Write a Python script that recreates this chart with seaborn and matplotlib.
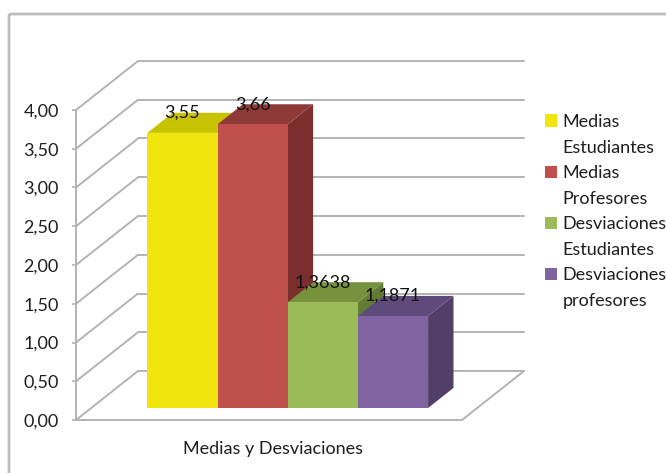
import matplotlib
matplotlib.use("Agg")
import matplotlib.pyplot as plt
import matplotlib.patches as mpatches
from matplotlib.transforms import Affine2D
import seaborn as sns
import pandas as pd

# ---- data ----
categories = ["Medias y Desviaciones"]
series_names = ["Medias Estudiantes", "Medias Profesores",
                "Desviaciones Estudiantes", "Desviaciones profesores"]
values = [3.55, 3.66, 1.3638, 1.1871]
value_labels = ["3,55", "3,66", "1,3638", "1,1871"]
y_ticks = [0.0, 0.5, 1.0, 1.5, 2.0, 2.5, 3.0, 3.5, 4.0]
y_tick_labels = ["0,00", "0,50", "1,00", "1,50", "2,00", "2,50", "3,00", "3,50", "4,00"]

# ---- styles ----
front_colors = ["#f0e60e", "#c0504d", "#9bbb59", "#8064a2"]
top_colors = ["#c8c300", "#8e3a38", "#76923c", "#5f4b7b"]
side_colors = ["#a9a300", "#7a2e2d", "#637c33", "#523f69"]
grid_color = "#b3b3b3"
text_color = "#1e1e1e"
FS = 13

sns.set_style("white")
plt.rcParams["font.family"] = ["Lato", "DejaVu Sans"]

W, H = 666, 473
fig = plt.figure(figsize=(W / 100, H / 100), dpi=100)
fig.patch.set_facecolor("white")

# outer chart border
fig.patches.append(mpatches.FancyBboxPatch(
    (9 / W, -0.05), 1.1, (H - 14) / H + 0.05,
    boxstyle="round,pad=0,rounding_size=0.004",
    transform=fig.transFigure, fill=False, edgecolor="#bdbdbd", linewidth=2))

ax_left, ax_right, ax_bottom, ax_top = 76, 462, 420, 110
ax = fig.add_axes([ax_left / W, (H - ax_bottom) / H,
                   (ax_right - ax_left) / W, (ax_bottom - ax_top) / H])

df = pd.DataFrame({"grupo": categories * len(series_names),
                   "serie": series_names, "valor": values})
sns.barplot(data=df, x="grupo", y="valor", hue="serie", hue_order=series_names,
            palette=front_colors, saturation=1, width=0.8, ax=ax,
            legend=False, linewidth=0)

xlim = (-0.56, 0.54)
ax.set_xlim(*xlim)
ax.set_ylim(0, 4)

px_x = (ax_right - ax_left) / (xlim[1] - xlim[0])
px_y = (ax_bottom - ax_top) / 4.0
DX = 62 / px_x     # full depth, data units
DY = 49 / px_y
d0, d1 = 0.245, 0.655   # bar depth range (fraction of floor depth)

# back wall / side gridlines
for v in y_ticks:
    ax.plot([xlim[0], xlim[0] + DX], [v, v + DY], color=grid_color, lw=1.4,
            zorder=1, clip_on=False, solid_capstyle="butt")
    ax.plot([xlim[0] + DX, xlim[1] + DX], [v + DY, v + DY], color=grid_color,
            lw=1.4, zorder=1, clip_on=False)
# floor right edge
ax.plot([xlim[1], xlim[1] + DX], [0, DY], color=grid_color, lw=1.4,
        zorder=1, clip_on=False)

# 3D bars
for i, p in enumerate(ax.patches):
    x0 = p.get_x()
    w = p.get_width()
    h = p.get_height()
    x1 = x0 + w
    p.set_transform(Affine2D().translate(d0 * DX, d0 * DY) + ax.transData)
    p.set_zorder(3 + 3 * i + 2)
    p.set_clip_on(False)
    side = mpatches.Polygon([(x1 + d0 * DX, d0 * DY), (x1 + d0 * DX, h + d0 * DY),
                             (x1 + d1 * DX, h + d1 * DY), (x1 + d1 * DX, d1 * DY)],
                            closed=True, facecolor=side_colors[i], edgecolor="none",
                            zorder=3 + 3 * i, clip_on=False)
    top = mpatches.Polygon([(x0 + d0 * DX, h + d0 * DY), (x1 + d0 * DX, h + d0 * DY),
                            (x1 + d1 * DX, h + d1 * DY), (x0 + d1 * DX, h + d1 * DY)],
                           closed=True, facecolor=top_colors[i], edgecolor="none",
                           zorder=3 + 3 * i + 1, clip_on=False)
    ax.add_patch(side)
    ax.add_patch(top)
    ax.text(x0 + w / 2 + d0 * DX, h + d1 * DY, value_labels[i],
            ha="center", va="center", fontsize=FS, color="#111111",
            zorder=40, clip_on=False)

# axes styling
for s in ["top", "right"]:
    ax.spines[s].set_visible(False)
for s in ["left", "bottom"]:
    ax.spines[s].set_color(grid_color)
    ax.spines[s].set_linewidth(1.4)
    ax.spines[s].set_zorder(2)
ax.set_yticks(y_ticks)
ax.set_yticklabels(y_tick_labels)
ax.tick_params(axis="y", left=True, length=3, width=1.2, color=grid_color,
               labelsize=FS, labelcolor=text_color, pad=9.5)
ax.tick_params(axis="x", bottom=False, length=0, labelsize=FS,
               labelcolor=text_color, pad=15)
ax.set_xlabel("")
ax.set_ylabel("")
ax.set_facecolor("none")
ax.grid(False)

# legend: colour square on first line, second line aligned under it
handles, labels = [], []
for name, c in zip(series_names, front_colors):
    first, second = name.split(" ", 1)
    handles.append(mpatches.Patch(facecolor=c, edgecolor="none"))
    labels.append(first)
    handles.append(mpatches.Patch(facecolor="none", edgecolor="none"))
    labels.append(second)
fig.legend(handles, labels, loc="upper left",
           bbox_to_anchor=(545 / W, (H - 114) / H), frameon=False,
           fontsize=FS, labelcolor=text_color, handlelength=0.68,
           handleheight=0.68, handletextpad=0.28, labelspacing=0.53,
           borderpad=0, borderaxespad=0)

fig.savefig("out.png", dpi=100, facecolor="white")
